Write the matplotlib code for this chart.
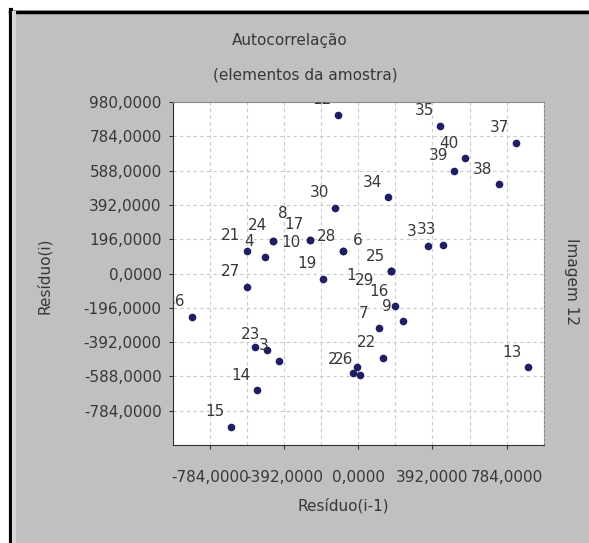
import matplotlib
matplotlib.use("Agg")
import matplotlib.pyplot as plt
from matplotlib.lines import Line2D
from matplotlib.patches import Rectangle

# residuals: x = Residuo(i-1), y = Residuo(i)
labels = ["12", "35", "37", "40", "39", "38", "34", "30", "24", "17",
          "28", "21", "4", "19", "27", "3", "33", "25", "16", "9",
          "7", "22", "", "2", "26", "13", "14", "15", "36", "23",
          "", "3", "8", "10", "6", "1", "29"]
res_prev = [-109, 432, 833, 564, 506, 743, 157, -123, -449, -255,
            -81, -590, -493, -189, -588, 368, 447, 175, 194, 238,
            111, 128, -8, -26, 9, 898, -537, -674, -880, -484,
            -546, -417, -255, -449, -81, 175, 175]
res_cur = [906, 843, 746, 660, 586, 511, 437, 377, 186, 194,
           126, 129, 97, -31, -77, 157, 163, 14, -186, -274,
           -313, -481, -533, -570, -580, -536, -666, -875, -247, -437,
           -418, -498, 194, 186, 126, 14, 14]

y_ticks = [980, 784, 588, 392, 196, 0, -196, -392, -588, -784]
x_ticks = [-784, -392, 0, 392, 784]

# label offsets (pixels) for labels that sit away from the usual spot
default_off = (-16, 15)
special_off = {"8": (-27, 26), "10": (18, -2), "6": (15, 11),
               "1": (-40, -4), "29": (-27, -9), "2": (-21, 14)}

fig = plt.figure(figsize=(5.89, 5.43), dpi=100, facecolor="white")

# window-like grey background with dark border on top and left
fig.patches.append(Rectangle((9 / 589, 0), 1, 1 - 10 / 543, transform=fig.transFigure,
                             facecolor="#c0c0c0", edgecolor="none", zorder=-10))
fig.lines.append(Line2D([10 / 589, 1], [1 - 11.5 / 543, 1 - 11.5 / 543],
                        transform=fig.transFigure, color="black", lw=2.5))
fig.lines.append(Line2D([10.5 / 589, 10.5 / 589], [0, 1 - 10 / 543],
                        transform=fig.transFigure, color="black", lw=3))
fig.lines.append(Line2D([14 / 589, 14 / 589], [0, 1 - 13 / 543],
                        transform=fig.transFigure, color="#d6d6d6", lw=3))

ax = fig.add_axes([172.8 / 589, 1 - 445 / 543, 371 / 589, 343 / 543])
ax.set_facecolor("white")
ax.set_xlim(-980, 980)
ax.set_ylim(-980, 980)

ax.plot(res_prev, res_cur, linestyle="none", marker="o", ms=4.5,
        color="#1e1e62", zorder=3)

for lab, x, y in zip(labels, res_prev, res_cur):
    if not lab:
        continue
    off = special_off.get(lab, default_off)
    t = ax.annotate(lab, (x, y), xytext=off, textcoords="offset pixels",
                    ha="center", va="center", fontsize=11, color="#383838",
                    annotation_clip=False, zorder=4)
    t.set_clip_on(True)
    t.set_clip_path(ax.patch)

ax.set_yticks(y_ticks)
ax.set_yticklabels([f"{v},0000" for v in y_ticks])
ax.set_xticks(x_ticks)
ax.set_xticklabels([f"{v},0000" for v in x_ticks])
ax.set_xticks(range(-980, 981, 196), minor=True)
ax.set_yticks(range(-980, 981, 196), minor=True)
ax.tick_params(axis="both", labelsize=11, labelcolor="#383838", color="#303030",
               length=3, direction="out")
ax.tick_params(axis="x", pad=15)
ax.tick_params(axis="y", pad=5)
ax.tick_params(which="minor", length=0)

ax.grid(True, which="both", color="#c8c8c8", linestyle=(0, (3, 3)), lw=0.8)
ax.set_axisbelow(True)

ax.spines["left"].set_color("#303030")
ax.spines["bottom"].set_color("#303030")
ax.spines["top"].set_color("#8a8a8a")
ax.spines["right"].set_color("#8a8a8a")
ax.spines["right"].set_linestyle((0, (2, 2)))

fig.text(290 / 589, 1 - 40 / 543, "Autocorrelação", ha="center", va="center",
         fontsize=11, color="#383838")
fig.text(305 / 589, 1 - 75 / 543, "(elementos da amostra)", ha="center", va="center",
         fontsize=11, color="#383838")
fig.text(343 / 589, 1 - 506 / 543, "Resíduo(i-1)", ha="center", va="center",
         fontsize=11, color="#383838")
fig.text(44 / 589, 1 - 276 / 543, "Resíduo(i)", ha="center", va="center",
         rotation=90, fontsize=11, color="#383838")
fig.text(572 / 589, 1 - 282 / 543, "Imagem 12", ha="center", va="center",
         rotation=270, fontsize=11, color="#383838")

fig.savefig("out.png", dpi=100, facecolor=fig.get_facecolor())
